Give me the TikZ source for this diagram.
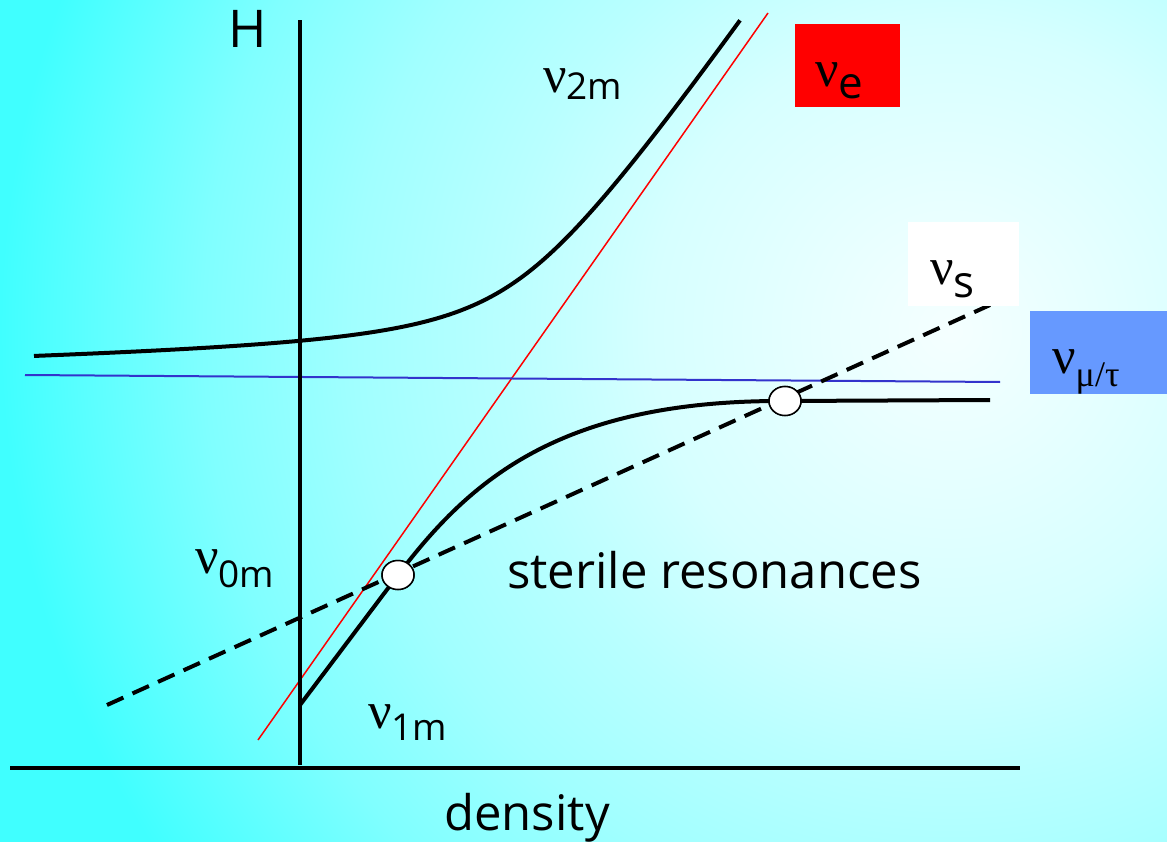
\documentclass[tikz,border=0pt]{standalone}
\usepackage{fontspec}
\setmainfont{Open Sans}
\newfontfamily\grk{Liberation Serif}
\usetikzlibrary{shapes.geometric}
\pgfdeclareradialshading{bgshade}{\pgfpoint{0bp}{0bp}}{rgb(0bp)=(0.96,1,1); rgb(6.8bp)=(0.84,1,1); rgb(10.2bp)=(0.725,1,1); rgb(13.6bp)=(0.63,1,1); rgb(17bp)=(0.5,1,1); rgb(21.6bp)=(0.25,1,1); rgb(25bp)=(0.25,1,1); rgb(50bp)=(0.25,1,1)}
\definecolor{lineblue}{rgb}{0.2,0.2,0.8}
\definecolor{boxblue}{HTML}{6699FF}
\newcommand{\numain}[3]{{\grk\fontsize{52pt}{60pt}\selectfont ν}\raisebox{-#3pt}{\fontsize{#2pt}{#2pt}\selectfont #1}}
\newcommand{\bigtext}{\fontsize{49pt}{58pt}\selectfont}
\tikzset{
  curve/.style={line width=4pt, black, line join=round},
  axisline/.style={line width=4.3pt, black},
  dashline/.style={line width=4pt, black, dash pattern=on 18pt off 10pt},
  lbl/.style={inner sep=0pt, anchor=base west},
  res/.style={ellipse, draw=black, fill=white, line width=1.5pt, minimum width=32pt, minimum height=29pt, inner sep=0pt},
  colbox/.style={inner sep=0pt, anchor=north west, draw=none}
}
\begin{document}
\begin{tikzpicture}[x=1pt,y=-1pt, declare function={hh(\x)=3.689-0.007087*\x; upper(\x)=733.7-0.7313*\x-100*sqrt(hh(\x)*hh(\x)+0.5625);}]
\useasboundingbox (0,0) rectangle (1167,842);
\begin{scope}
\clip (0,0) rectangle (1167,842);
\shade[shading=bgshade] (950,330) circle (1100pt);
\end{scope}
% red and blue lines
\coordinate (rA) at (258,740);
\coordinate (rB) at (768,13);
\draw[red, line width=1.5pt] (rA) -- (rB);
\coordinate (bA) at (25,375);
\coordinate (bB) at (1000,382);
\draw[lineblue, line width=2pt] (bA) -- (bB);
% axes
\coordinate (yA) at (300,765);
\coordinate (yB) at (300,20);
\coordinate (xA) at (10,768);
\coordinate (xB) at (1020,768);
\draw[axisline] (yA) -- (yB);
\draw[axisline] (xA) -- (xB);
% upper curve (nu_2m)
\draw[curve] plot[domain=34:740, samples=120, smooth] (\x, {upper(\x)});
% lower curve (nu_1m)
\coordinate (l0) at (300,705);
\coordinate (l3) at (990,400);
\coordinate (sA) at (107,705);
\coordinate (sB) at (990,305);
\node[res] (res1) at (398,575) {};
\node[res] (res2) at (785,401) {};
\draw[curve] (l0) -- (res1.center) .. controls (470,480) and (560,400) .. (res2.center) -- (l3);
% dashed sterile line
\draw[dashline] (sA) -- (sB);
% resonance circles on top
\node[res] at (res1.center) {};
\node[res] at (res2.center) {};
% coloured boxes
\node[colbox, fill=red, minimum width=105pt, minimum height=83pt] (boxe) at (795,24) {};
\node[colbox, fill=white, minimum width=111pt, minimum height=84pt] (boxs) at (908,222) {};
\node[colbox, fill=boxblue, minimum width=137pt, minimum height=83pt] (boxmt) at (1030,311) {};
% labels
\node[inner sep=0pt, anchor=base] (hlab) at (248,48) {\fontsize{52pt}{60pt}\selectfont H};
\node[inner sep=0pt, anchor=base] (dlab) at (527,830) {\bigtext density};
\node[lbl] (srlab) at (507,588) {\bigtext sterile resonances};
\node[lbl] (nu2) at (543,93) {\numain{2m}{37}{7}};
\node[lbl] (nu0) at (195,573) {\numain{0m}{37}{14}};
\node[lbl] (nu1) at (368,728) {\numain{1m}{37}{12}};
\node[lbl] (nue) at (815,87) {\numain{e}{44}{12}};
\node[lbl] (nus) at (930,285) {\numain{s}{44}{13}};
\node[lbl] (numt) at (1052,373) {{\grk\fontsize{52pt}{60pt}\selectfont ν}\raisebox{-13pt}{\grk\fontsize{36pt}{36pt}\selectfont μ/τ}};
\end{tikzpicture}
\end{document}
